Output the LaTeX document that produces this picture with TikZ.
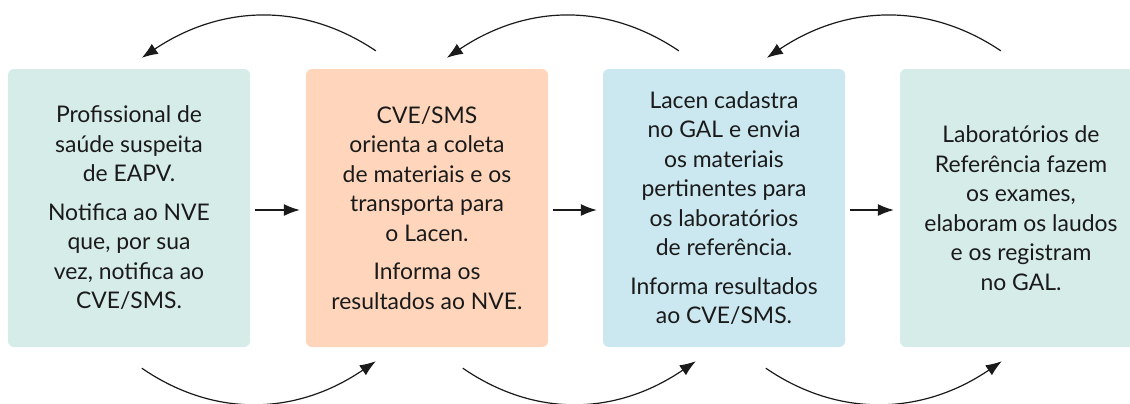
\documentclass[tikz,border=0pt]{standalone}
\usepackage{fontspec}
\setmainfont{Lato}
\usetikzlibrary{arrows.meta}
\definecolor{tealbox}{RGB}{214,236,232}
\definecolor{peachbox}{RGB}{255,214,188}
\definecolor{bluebox}{RGB}{203,231,239}
\definecolor{ink}{RGB}{26,26,26}
\begin{document}
\begin{tikzpicture}[x=1bp,y=-1bp,
  stagebox/.style={rectangle, rounded corners=6bp, draw=none, inner sep=0pt,
    minimum width=242bp, minimum height=278bp, align=center, text=ink,
    font=\fontsize{23}{29.6}\selectfont},
  flow/.style={draw=ink, line width=1.2bp, -{Latex[length=16bp,width=12bp]}},
  ]
\useasboundingbox (0,0) rectangle (1130,403);
\node[stagebox, fill=tealbox] (b1) at (129,208)
  {Profissional de\\saúde suspeita\\de EAPV.\\[9bp]Notifica ao NVE\\que, por sua\\vez, notifica ao\\CVE/SMS.};
\node[stagebox, fill=peachbox] (b2) at (427,208)
  {CVE/SMS\\orienta a coleta\\de materiais e os\\transporta para\\o Lacen.\\[9bp]Informa os\\resultados ao NVE.};
\node[stagebox, fill=bluebox] (b3) at (724,208)
  {Lacen cadastra\\no GAL e envia\\os materiais\\pertinentes para\\os laboratórios\\de referência.\\[9bp]Informa resultados\\ao CVE/SMS.};
\begin{scope}
\clip (0,0) rectangle (1130,403);
\node[stagebox, fill=tealbox] (b4) at (1021,208)
  {Laboratórios de\\Referência fazem\\os exames,\\elaboram os laudos\\e os registram\\no GAL.};
\end{scope}
% straight arrows
\draw[flow, shorten <=5bp, shorten >=6bp] ([yshift=-2bp]b1.east) -- ([yshift=-2bp]b2.west);
\draw[flow, shorten <=5bp, shorten >=6bp] ([yshift=-2bp]b2.east) -- ([yshift=-2bp]b3.west);
\draw[flow, shorten <=5bp, shorten >=6bp] ([yshift=-2bp]b3.east) -- ([yshift=-2bp]b4.west);
% top arcs (backwards)
\draw[flow] ([shift={(70,-18)}]b2.north west) .. controls +(-76,-51) and +(76,-51) .. ([shift={(134,-11)}]b1.north west);
\draw[flow] ([shift={(76,-18)}]b3.north west) .. controls +(-76,-51) and +(76,-51) .. ([shift={(141,-11)}]b2.north west);
\draw[flow] ([shift={(101,-18)}]b4.north west) .. controls +(-76,-51) and +(76,-51) .. ([shift={(164,-11)}]b3.north west);
% bottom arcs (forwards)
\draw[flow] ([shift={(134,21)}]b1.south west) .. controls +(76,52) and +(-76,52) .. ([shift={(70,14)}]b2.south west);
\draw[flow] ([shift={(157,21)}]b2.south west) .. controls +(76,52) and +(-76,52) .. ([shift={(93,14)}]b3.south west);
\draw[flow] ([shift={(163,21)}]b3.south west) .. controls +(76,52) and +(-76,52) .. ([shift={(102,14)}]b4.south west);
\end{tikzpicture}
\end{document}
